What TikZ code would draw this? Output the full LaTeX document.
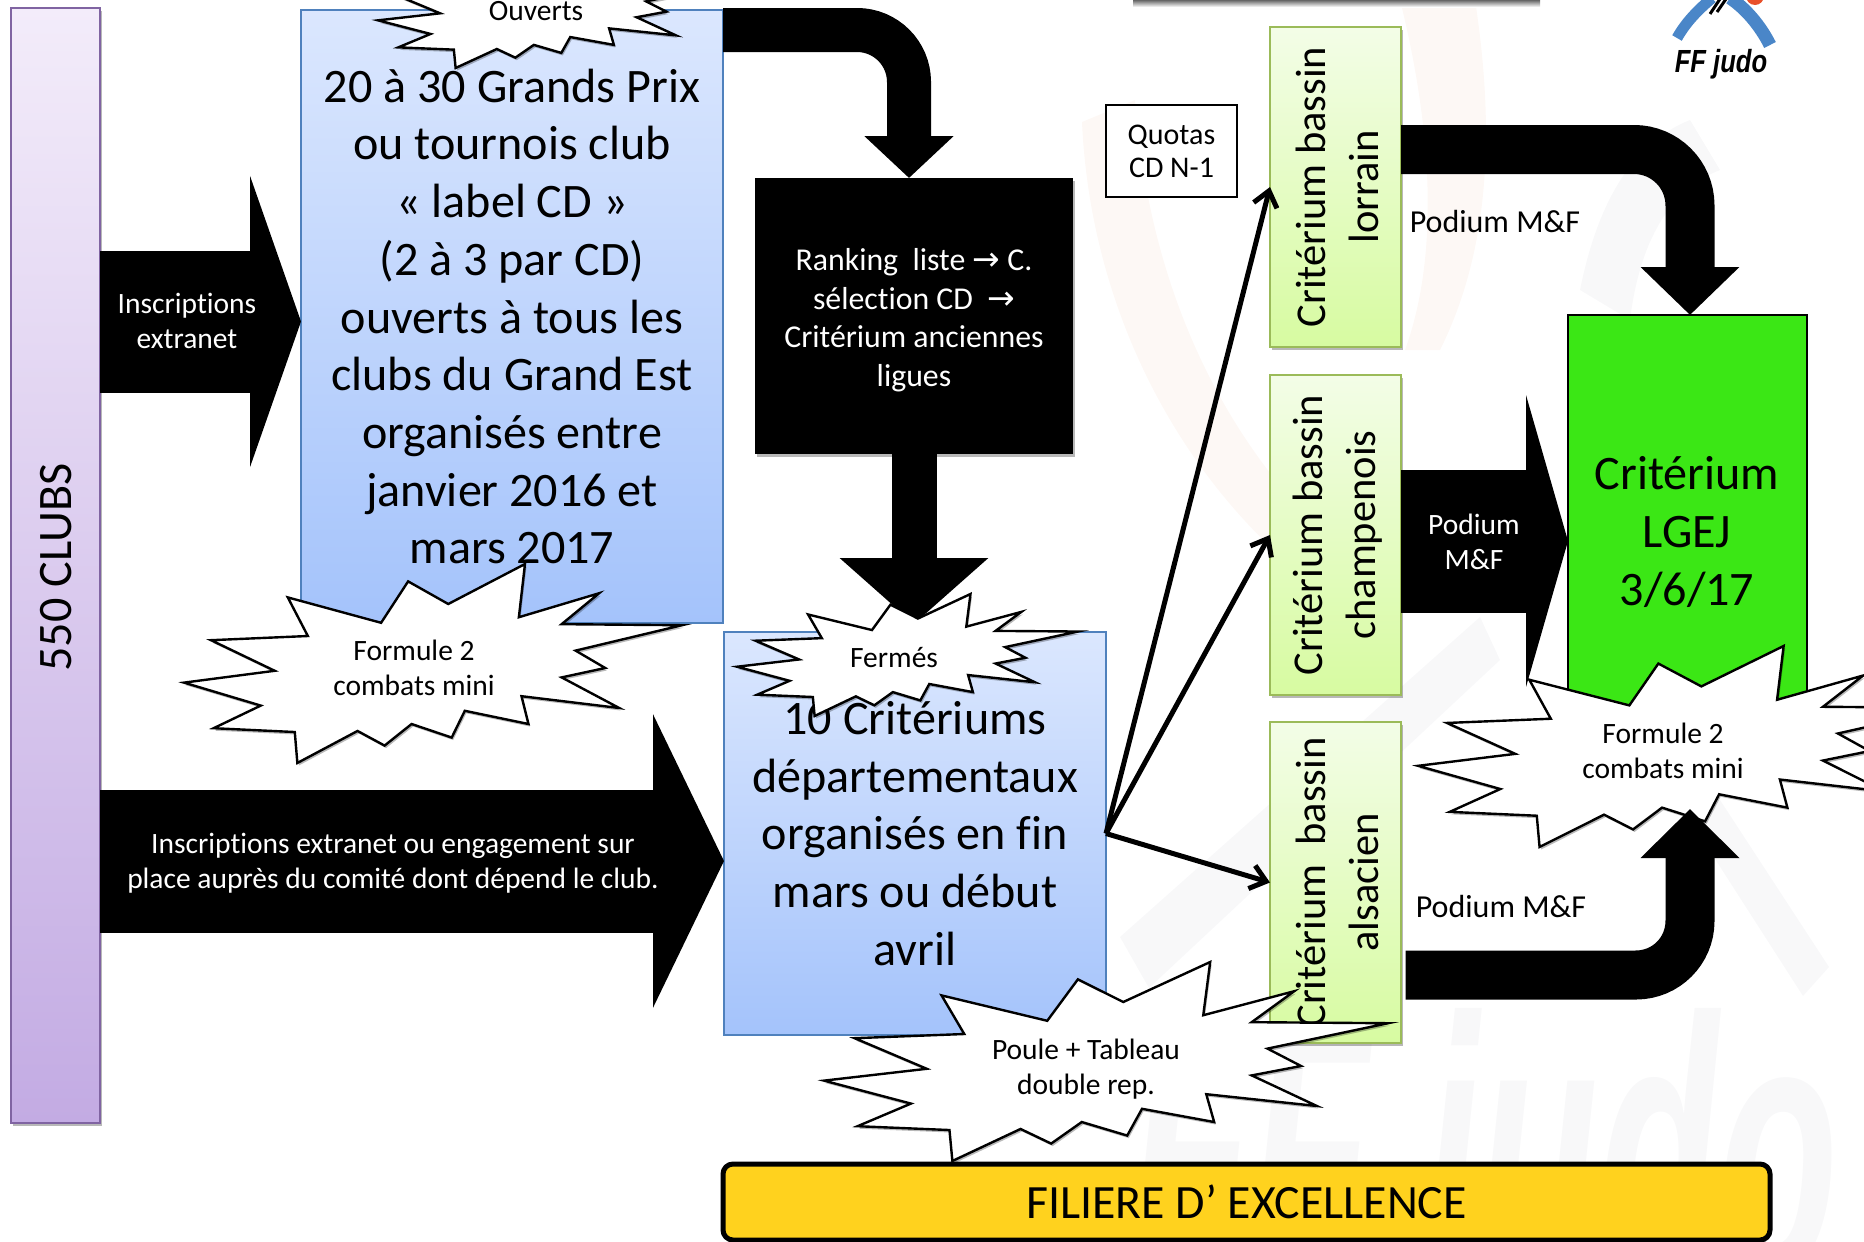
\documentclass[tikz,border=0pt]{standalone}
\usepackage{fontspec}
\usepackage{graphicx}
\setmainfont[RawFeature=-liga]{Carlito}
\newfontfamily\dv{DejaVu Sans}
\newfontfamily\lib{Liberation Sans}
\usetikzlibrary{arrows.meta,shadows}
\definecolor{blueT}{HTML}{DBE7FE}\definecolor{blueB}{HTML}{A4C3FB}\definecolor{blueL}{HTML}{4F81BD}
\definecolor{greenT}{HTML}{F3FDE7}\definecolor{greenB}{HTML}{D7FBA1}\definecolor{greenL}{HTML}{9BBB59}
\definecolor{purT}{HTML}{F3ECFA}\definecolor{purB}{HTML}{C3ABE3}\definecolor{purL}{HTML}{8064A2}
\definecolor{critG}{HTML}{3BE715}\definecolor{yel}{HTML}{FFD21E}
\definecolor{wmg}{HTML}{F8F8F9}\definecolor{wmp}{HTML}{FDF8F5}\definecolor{logob}{HTML}{4A86C8}\definecolor{logor}{HTML}{E8502A}
\newcommand\bigf{\fontsize{48.1}{57.7}\selectfont}
\newcommand\medf{\fontsize{31.8}{38.5}\selectfont}
\newcommand\smallf{\fontsize{29.5}{35}\selectfont}
\newcommand\podf{\fontsize{32}{35}\selectfont}
\newcommand\rotf{\fontsize{42.5}{53}\selectfont}
\newcommand\arr{{\dv\fontsize{33}{33}\selectfont →}}
\newcommand\sealpts{(1146.2,434.2) -- (1479,0) -- (1452.5,577.7) -- (1800.7,317.2) -- (1638,653.2) -- (2160,664.5) -- (1698.5,940.2) -- (1827,1129) -- (1638,1231) -- (1887.7,1563.2) -- (1464,1435) -- (1494.2,1737) -- (1218,1593.5) -- (1161.2,1884.2) -- (987.2,1737) -- (870,1971.2) -- (752.7,1812.5) -- (491.7,2160) -- (480.5,1824) -- (128.5,1782.5) -- (333,1537) -- (0,1287.7) -- (393.5,1159.2) -- (117.2,827) -- (537.2,781.7) -- (450.2,362.5) -- (855,638.2) -- (972.2,188.7) -- cycle}
\newcommand\seal[4]{\pgfmathsetmacro\sx{#3/2160}\pgfmathsetmacro\sy{-#4/2160}%
  \draw[sealst,shift={(#1,#2)},x=\sx pt,y=\sy pt] \sealpts;}
\tikzset{
  softshadow/.style={drop shadow={shadow xshift=1.5pt,shadow yshift=-2.5pt,fill=black,opacity=.28}},
  boxbase/.style={rectangle,inner sep=0pt,outer sep=0pt,align=center},
  bluebox/.style={boxbase,top color=blueT,bottom color=blueB,draw=blueL,line width=2pt,font=\bigf},
  greenbox/.style={boxbase,top color=greenT,bottom color=greenB,draw=greenL,line width=2.5pt,minimum width=131pt,softshadow},
  rotlab/.style={boxbase,rotate=90,font=\rotf},
  sealst/.style={draw=black,fill=white,line width=2.4pt,line join=miter,miter limit=10,softshadow},
  seallab/.style={boxbase,font=\smallf},
  whitelab/.style={boxbase,font=\smallf,text=white},
  block/.style n args={3}{draw=black,line width=#1pt,-{Triangle[width=#2pt,length=#3pt]},line cap=butt},
  thinarrow/.style={draw=black,line width=5pt,-{Straight Barb[length=15pt,width=24pt]}},
}
\begin{document}
\begin{tikzpicture}[x=1pt,y=-1pt]
\useasboundingbox (0,0) rectangle (1864,1242);
% faint background logo
\fill[wmp] (1082,122) .. controls (1090,300) and (1170,460) .. (1290,565) -- (1320,530) .. controls (1230,440) and (1150,300) .. (1135,100) -- cycle;
\fill[wmp] (1400,0) -- (1475,0) .. controls (1495,130) and (1490,250) .. (1440,350) -- (1405,350) .. controls (1445,240) and (1425,100) .. (1400,0) -- cycle;
\fill[wmg] (1120,937) -- (1149,988) -- (1500,660) -- (1480,617) -- cycle;
\fill[wmg] (1720,800) -- (1829,967) -- (1803,996) -- (1690,820) -- cycle;
\fill[wmg] (1580,290) .. controls (1600,190) and (1640,140) .. (1690,120) -- (1720,170) .. controls (1670,190) and (1640,240) .. (1630,320) -- cycle;
\node[anchor=base west,inner sep=0pt,text=wmg] (wm) at (1130,1276) {\scalebox{0.53}[1]{\lib\fontsize{370}{370}\selectfont\bfseries\itshape FF judo}};
% logo
\shade[top color=black!60,bottom color=white] (1133,0) rectangle (1540,7);
\fill[logor] (1755,-4) circle (9);
\draw[logob,line width=11pt] (1677,38) .. controls (1686,22) and (1698,10) .. (1712,-2);
\draw[logob,line width=13pt] (1770,45) .. controls (1760,25) and (1745,8) .. (1730,-2);
\draw[black,line width=3pt] (1710,14) -- (1720,-1) (1717,12) -- (1726,-1);
\node[inner sep=0pt,anchor=base] (ffj) at (1721,72) {\scalebox{.8}[1]{\lib\fontsize{32}{32}\selectfont\bfseries\itshape FF judo}};
% boxes
\node[boxbase,minimum width=89pt,minimum height=1115pt,top color=purT,bottom color=purB,draw=purL,line width=2pt,softshadow] (clubs) at (55.5,565.5) {};
\node[rotlab,font=\bigf] (clubst) at (56,567.5) {550 CLUBS};
\node[bluebox,minimum width=422pt,minimum height=613pt] (b1) at (512,316.5) {20 à 30 Grands Prix\\ou tournois club\\« label CD »\\(2 à 3 par CD)\\ouverts à tous les\\clubs du Grand Est\\organisés entre\\janvier 2016 et\\mars 2017};
\node[boxbase,minimum width=318pt,minimum height=276pt,fill=black,softshadow] (blk) at (914,316) {};
\node[boxbase,text=white,font=\medf] (blkt) at (914,320) {Ranking~~liste \arr{} C.\\sélection CD~~\arr\\Critérium anciennes\\ligues};
\node[bluebox,minimum width=382pt,minimum height=403pt] (b3) at (915,833.5) {10 Critériums\\départementaux\\organisés en fin\\mars ou début\\avril};
\node[boxbase,minimum width=131pt,minimum height=92pt,draw=black,fill=white,line width=2.5pt,font=\fontsize{30}{33}\selectfont] (quo) at (1171.5,151) {Quotas\\CD N-1};
\node[greenbox,minimum height=320pt] (g1) at (1335.5,187) {};
\node[greenbox,minimum height=320pt] (g2) at (1335.5,535) {};
\node[greenbox,minimum height=321pt] (g3) at (1335.5,882.5) {};
\node[rotlab] (g1t) at ([xshift=2pt]g1.center) {Critérium bassin\\lorrain};
\node[rotlab] (g2t) at ([xshift=2pt]g2.center) {Critérium bassin\\champenois};
\node[rotlab] (g3t) at ([xshift=2pt]g3.center) {Critérium~~bassin\\alsacien};
\node[boxbase,minimum width=239pt,minimum height=452pt,fill=critG,draw=black,line width=2pt] (crit) at (1687.5,541) {};
\node[boxbase,font=\bigf] (critt) at (1687,532) {Critérium\\LGEJ\\3/6/17};
\node[boxbase,minimum width=1047pt,minimum height=76pt,fill=yel,draw=black,line width=5pt,rounded corners=10pt,font=\fontsize{47.8}{50}\selectfont,softshadow] (fil) at (1246.5,1202) {FILIERE D’ EXCELLENCE};
% block connectors
\coordinate (a1e) at ([yshift=-5pt]b1.west);
\coordinate (a2e) at ([yshift=-27.5pt]b3.west);
\draw[block={142}{290}{51}] (clubs.east |- a1e) -- (a1e);
\draw[block={143}{291}{71}] (clubs.east |- a2e) -- (a2e);
\draw[block={45}{145}{66}] (blk.south) -- ([yshift=8pt]b3.north -| blk.south);
\draw[block={44}{87}{42},rounded corners=52pt] ([yshift=-20pt]b1.north east) -| ([xshift=-5pt]blk.north);
\draw[block={49}{96}{48},rounded corners=56pt] ([yshift=37.5pt]g1.east) -| ([xshift=2.5pt]crit.north);
\draw[block={143}{291}{42}] (g2.east |- crit.west) -- (crit.west);
% thin connectors
\draw[thinarrow] (b3.east) -- (g1.west);
\draw[thinarrow] (b3.east) -- (g2.west);
\draw[thinarrow] (b3.east) -- (g3.west);
% starbursts
\seal{378}{-50}{341}{118}
\seal{184}{564}{498}{199}
\seal{737}{594}{341}{122}
\seal{824}{962}{564}{199}
\seal{1418}{646}{534}{201}
\draw[block={49}{96}{49},rounded corners=54pt] ([xshift=4.5pt,yshift=-92.5pt]g3.east) -| ([xshift=2.5pt,yshift=-42pt]crit.south);
% labels
\node[seallab] (ou) at (536,11) {Ouverts};
\node[seallab] (f2a) at (414,668) {Formule 2\\combats mini};
\node[seallab] (fe) at (894,658) {Fermés};
\node[seallab] (pt) at (1086,1069) {Poule + Tableau\\double rep.};
\node[seallab] (f2b) at (1663,751) {Formule 2\\combats mini};
\node[whitelab] (ie) at (187,321) {Inscriptions\\extranet};
\node[whitelab] (ie2) at (393,863) {Inscriptions extranet ou engagement sur\\place auprès du comité dont dépend le club.};
\node[whitelab] (pm) at (1474,542) {Podium\\M\&F};
\node[boxbase,font=\podf] (pm1) at (1495,222) {Podium M\&F};
\node[boxbase,font=\podf] (pm2) at (1501,906) {Podium M\&F};
\end{tikzpicture}
\end{document}
